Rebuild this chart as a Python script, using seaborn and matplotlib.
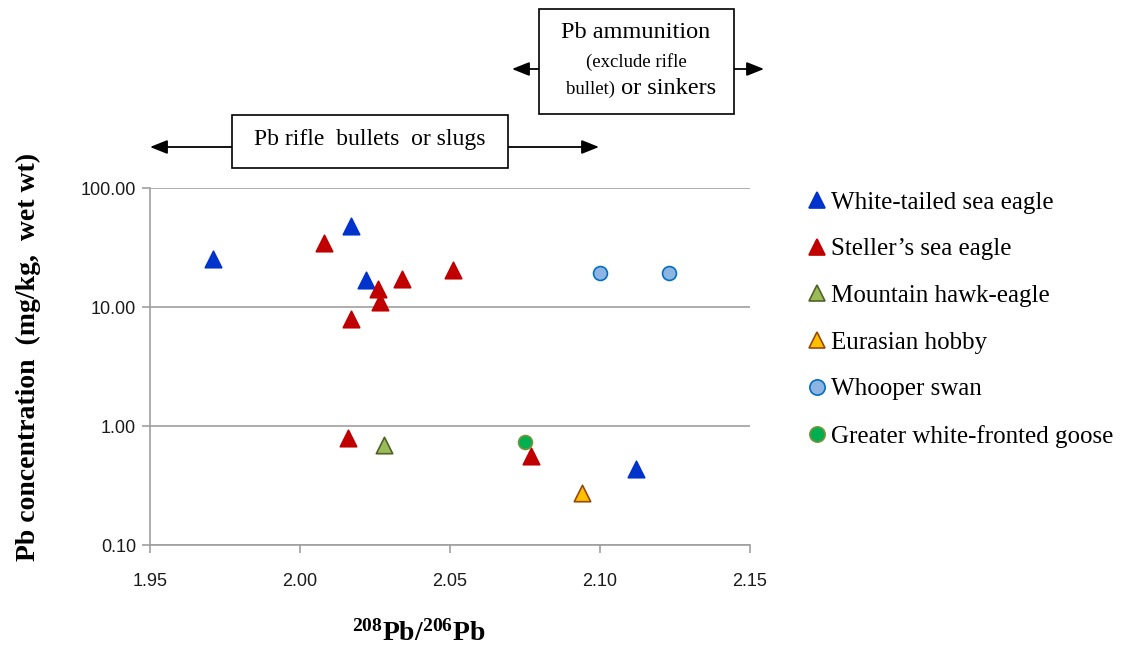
import matplotlib
matplotlib.use("Agg")
import matplotlib.pyplot as plt
import seaborn as sns
import pandas as pd
from matplotlib.ticker import FixedLocator, FuncFormatter, NullLocator
from matplotlib.lines import Line2D
from matplotlib.patches import Rectangle, FancyArrowPatch

# ---- data ----
wtse_x = [1.971, 2.017, 2.022, 2.112]
wtse_y = [25.3, 48.2, 16.8, 0.433]
sse_x = [2.008, 2.034, 2.051, 2.026, 2.0265, 2.017, 2.016, 2.077]
sse_y = [34.3, 17.1, 20.3, 14.3, 11.1, 7.86, 0.794, 0.561]
mhe_x = [2.028]
mhe_y = [0.689]
eh_x = [2.094]
eh_y = [0.275]
ws_x = [2.100, 2.123]
ws_y = [19.3, 19.3]
gwfg_x = [2.075]
gwfg_y = [0.73]

species = ["White-tailed sea eagle", "Steller\u2019s sea eagle", "Mountain hawk-eagle",
           "Eurasian hobby", "Whooper swan", "Greater white-fronted goose"]
xs = [wtse_x, sse_x, mhe_x, eh_x, ws_x, gwfg_x]
ys = [wtse_y, sse_y, mhe_y, eh_y, ws_y, gwfg_y]

x_ticks = [1.95, 2.00, 2.05, 2.10, 2.15]
y_ticks = [0.1, 1, 10, 100]

# styles
markers = ["^", "^", "^", "^", "o", "o"]
faces = ["#0033CC", "#C00000", "#9BBB59", "#FFC000", "#8EB4E3", "#00B050"]
edges = ["#0033CC", "#C00000", "#4F6228", "#984807", "#0070C0", "#77933C"]
sizes = [140, 140, 140, 140, 100, 100]

rows = []
for sp, xv, yv in zip(species, xs, ys):
    for a, b in zip(xv, yv):
        rows.append({"species": sp, "ratio": a, "pb": b})
df = pd.DataFrame(rows)

sns.set_theme(style="white")
plt.rcParams["mathtext.fontset"] = "custom"
plt.rcParams["mathtext.bf"] = "Liberation Serif:bold"
plt.rcParams["mathtext.rm"] = "Liberation Serif"
plt.rcParams["mathtext.it"] = "Liberation Serif:italic"

fig = plt.figure(figsize=(11.26, 6.5), dpi=100)
ax = fig.add_axes([150/1126, 1-545/650, 600/1126, (545-188)/650])

for sp, m, fc, ec, s in zip(species, markers, faces, edges, sizes):
    sub = df[df["species"] == sp]
    sns.scatterplot(data=sub, x="ratio", y="pb", ax=ax, marker=m, s=s,
                    color=fc, edgecolor=ec, linewidth=1.2, zorder=3, legend=False)

ax.set_yscale("log")
ax.set_xlim(1.95, 2.15)
ax.set_ylim(0.1, 100)
ax.xaxis.set_major_locator(FixedLocator(x_ticks))
ax.yaxis.set_major_locator(FixedLocator(y_ticks))
ax.yaxis.set_minor_locator(NullLocator())
ax.xaxis.set_major_formatter(FuncFormatter(lambda v, p: f"{v:.2f}"))
ax.yaxis.set_major_formatter(FuncFormatter(lambda v, p: f"{v:.2f}"))
ax.grid(axis="y", which="major", color="#A0A0A0", linewidth=1.2)
ax.grid(axis="x", visible=False)
ax.set_axisbelow(True)
for side in ["top", "right"]:
    ax.spines[side].set_visible(False)
for side in ["left", "bottom"]:
    ax.spines[side].set_color("#A0A0A0")
    ax.spines[side].set_linewidth(1.2)
ax.tick_params(axis="x", which="major", direction="out", length=6, width=1.2,
               color="#A0A0A0", bottom=True, pad=14, labelsize=13)
ax.tick_params(axis="y", which="major", direction="out", length=6, width=1.2,
               color="#A0A0A0", left=True, pad=4, labelsize=13)
for lab in ax.get_xticklabels() + ax.get_yticklabels():
    lab.set_fontfamily("Liberation Sans")
    lab.set_color("#1a1a1a")

ax.set_xlabel("")
ax.set_ylabel("")


def fx(px):
    return px / 1126


def fy(py):
    return 1 - py / 650


fig.text(fx(419), fy(633), "$\\mathbf{^{208}Pb/^{206}Pb}$", fontsize=20,
         ha="center", va="center", color="black")
fig.text(fx(28), fy(357), "Pb concentration  (mg/kg,  wet wt)", fontsize=20,
         fontfamily="Liberation Serif", fontweight="bold", rotation=90,
         ha="center", va="center", color="black")

# legend
handles = [Line2D([0], [0], marker=m, linestyle="none", markersize=11,
                  markerfacecolor=fc, markeredgecolor=ec, markeredgewidth=1.2)
           for m, fc, ec in zip(markers, faces, edges)]
leg = fig.legend(handles, species, loc="upper left", bbox_to_anchor=(807/1126, 1-191/650),
                 frameon=False, prop={"family": "Liberation Serif", "size": 18},
                 handlelength=0.8, handletextpad=0.15, labelspacing=0.97, borderaxespad=0,
                 borderpad=0)
for t in leg.get_texts():
    t.set_color("black")

fig.patches.append(Rectangle((fx(232), fy(168)), fx(508) - fx(232), fy(115) - fy(168),
                             transform=fig.transFigure, facecolor="white", edgecolor="black",
                             linewidth=1.2, zorder=5))
fig.text(fx(370), fy(140), "Pb rifle  bullets  or slugs", ha="center", va="center",
         fontsize=17, fontfamily="Liberation Serif", color="black", zorder=6)
fig.patches.append(Rectangle((fx(539), fy(114)), fx(734) - fx(539), fy(9) - fy(114),
                             transform=fig.transFigure, facecolor="white", edgecolor="black",
                             linewidth=1.2, zorder=5))
fig.text(fx(636), fy(33), "Pb ammunition", ha="center", va="center",
         fontsize=17.5, fontfamily="Liberation Serif", color="black", zorder=6)
fig.text(fx(636), fy(62), "(exclude rifle", ha="center", va="center",
         fontsize=13.5, fontfamily="Liberation Serif", color="black", zorder=6)
fig.text(fx(615), fy(89), "bullet)", ha="right", va="center",
         fontsize=13.5, fontfamily="Liberation Serif", color="black", zorder=6)
fig.text(fx(615), fy(89), " or sinkers", ha="left", va="center",
         fontsize=17.5, fontfamily="Liberation Serif", color="black", zorder=6)

for (x0, y0, x1, y1) in [(232, 147, 150, 147), (508, 147, 599, 147),
                         (539, 69, 512, 69), (734, 69, 764, 69)]:
    fig.add_artist(FancyArrowPatch((fx(x0), fy(y0)), (fx(x1), fy(y1)),
                                   transform=fig.transFigure,
                                   arrowstyle="-|>,head_length=0.75,head_width=0.3",
                                   mutation_scale=14, color="black", lw=1.3,
                                   shrinkA=0, shrinkB=0))

fig.savefig("out.png", dpi=100)
